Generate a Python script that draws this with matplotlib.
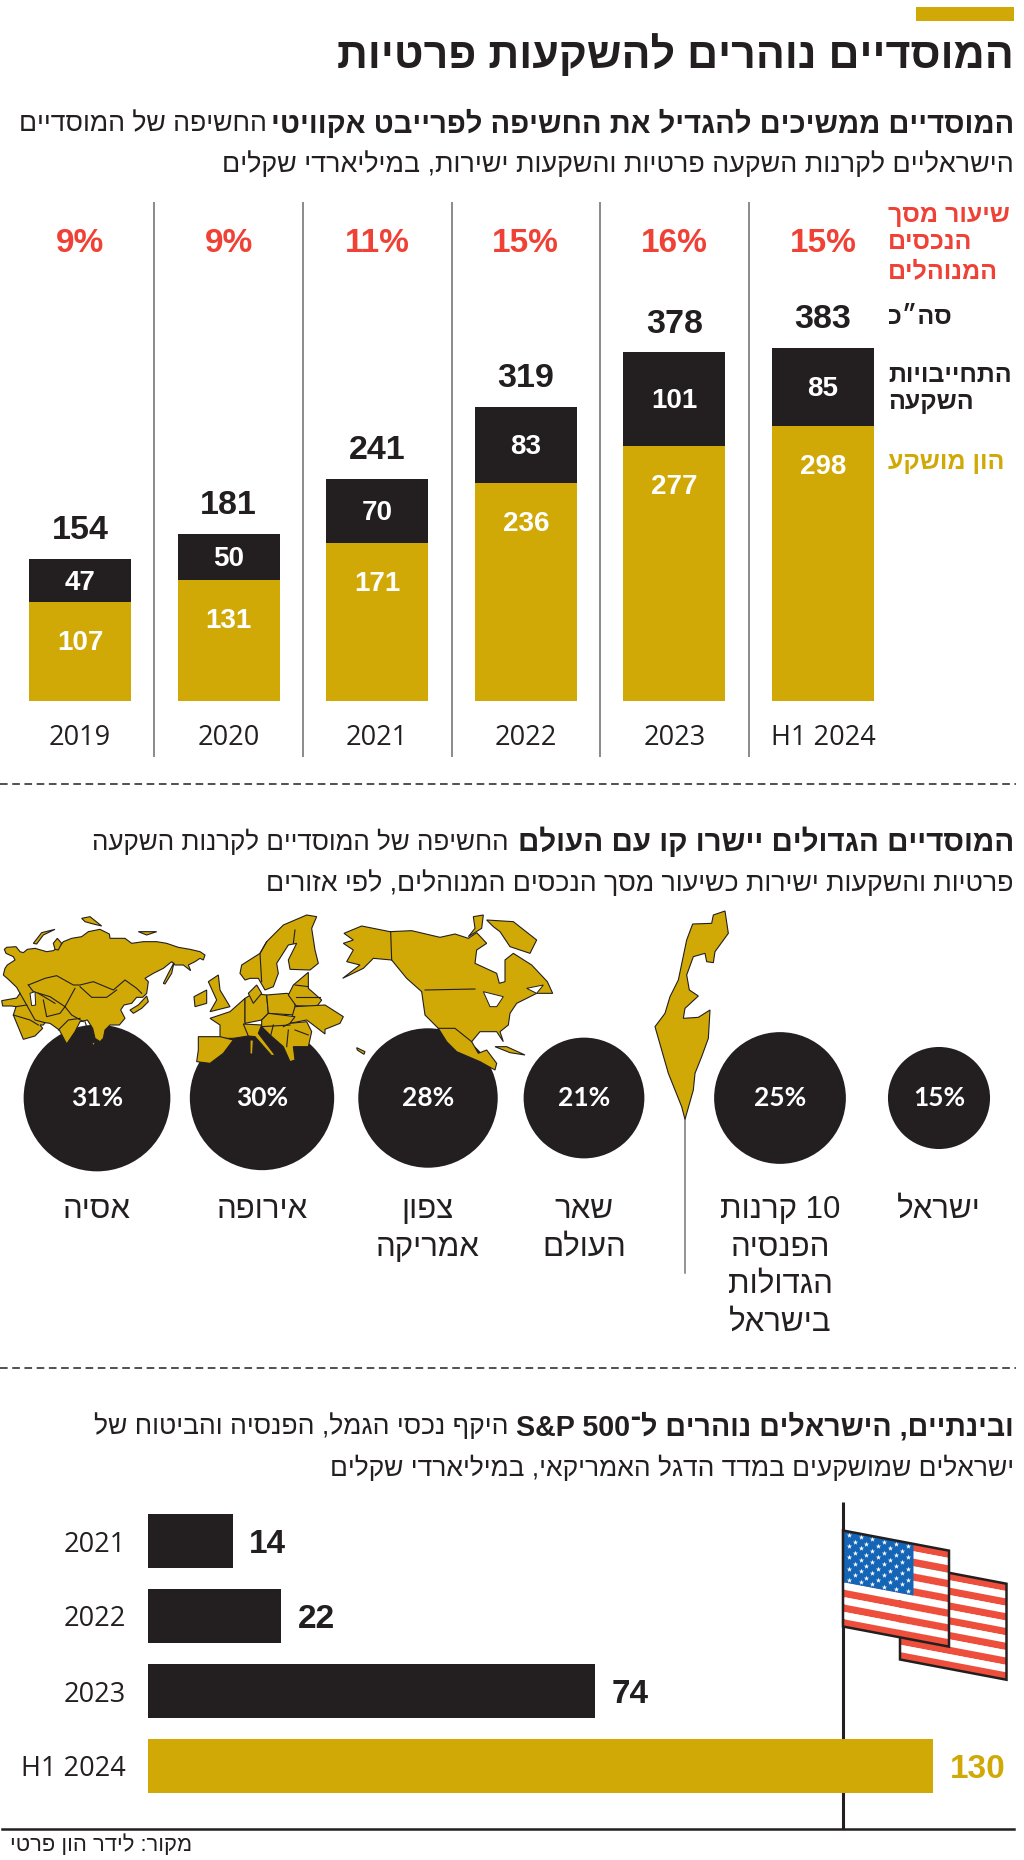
import re
import numpy as np
import matplotlib
matplotlib.use("Agg")
import matplotlib.pyplot as plt
from matplotlib.patches import Polygon

GOLD = "#d1a906"
BLACK = "#231f20"
RED = "#ef4136"
GREY = "#777777"
FLAG_RED = "#ee4f3c"
FLAG_BLUE = "#1565b7"

HEB = ["Liberation Sans", "DejaVu Sans"]
YEAR = ["Open Sans", "Liberation Sans"]

# top chart
years = ["2019", "2020", "2021", "2022", "2023", "H1 2024"]
equity = [107, 131, 171, 236, 277, 298]
commitments = [47, 50, 70, 83, 101, 85]
totals = [154, 181, 241, 319, 378, 383]
aum_share = ["9%", "9%", "11%", "15%", "16%", "15%"]

# circles, right to left in the picture
regions = [["ישראל"], ["10 קרנות", "הפנסיה", "הגדולות", "בישראל"], ["שאר", "העולם"],
           ["צפון", "אמריקה"], ["אירופה"], ["אסיה"]]
region_share = [15, 25, 21, 28, 30, 31]
region_x = [939, 780, 584, 428, 262, 97]

# bottom chart
sp_years = ["2021", "2022", "2023", "H1 2024"]
sp_values = [14, 22, 74, 130]

# map outlines (zoom pixels, 3 per image pixel)
ASIA = [(10, 195), (15, 175), (22, 165), (45, 150), (40, 140), (18, 130), (13, 118), (20, 112), (48, 110), (60, 125),
        (70, 128), (82, 118), (105, 115), (140, 125), (160, 122), (180, 108), (190, 95), (215, 85), (245, 80),
        (265, 65), (300, 58), (328, 72), (330, 85), (375, 85), (395, 100), (430, 95), (470, 95), (500, 100),
        (535, 112), (570, 118), (600, 125), (615, 135), (610, 150), (600, 145), (585, 155), (565, 165), (572, 182),
        (550, 165), (525, 165), (515, 155), (490, 175), (460, 190), (435, 205), (445, 215), (440, 250), (428, 262),
        (410, 262), (395, 280), (372, 285), (362, 300), (375, 325), (358, 345), (330, 345), (315, 360), (310, 385),
        (300, 395), (285, 385), (278, 355), (262, 330), (240, 335), (225, 365), (200, 402), (178, 360), (150, 340),
        (135, 338), (130, 345), (120, 345), (128, 355), (105, 378), (70, 388), (40, 315), (48, 290), (35, 288),
        (8, 288), (5, 272), (50, 264), (60, 250), (50, 232), (25, 208)]
ASIA_ISLES = [[(390, 300), (415, 285), (440, 258), (445, 275), (425, 295), (400, 310)],
              [(490, 220), (505, 190), (522, 158), (515, 190), (495, 222)],
              [(100, 100), (125, 68), (165, 58), (130, 75), (110, 102)],
              [(245, 25), (270, 20), (305, 48), (280, 42), (255, 35)],
              [(160, 100), (172, 85), (185, 100), (175, 120), (165, 118)],
              [(415, 65), (470, 65), (440, 75)],
              [(275, 400), (285, 395), (283, 408)]]
ASIA_LINES = [[(85, 225), (135, 205), (170, 197), (220, 225), (240, 225), (280, 215), (340, 240), (375, 210), (410, 235),
               (425, 250)],
              [(240, 230), (275, 262), (320, 262), (350, 240)], [(195, 290), (225, 235)],
              [(85, 225), (100, 245), (150, 260), (195, 290), (215, 315), (250, 335)],
              [(60, 250), (80, 285), (105, 330), (135, 338)], [(130, 270), (140, 320), (180, 310), (195, 290)],
              [(48, 290), (80, 285)], [(40, 315), (90, 330), (115, 345)], [(175, 360), (205, 330), (240, 325)],
              [(115, 250), (165, 280)], [(255, 335), (270, 380)]]
ASIA_HOLES = [[(90, 250), (105, 245), (107, 285), (95, 287)]]
EUROPE = [[(720, 190), (725, 165), (780, 130), (800, 95), (850, 45), (920, 15), (950, 20), (935, 55), (945, 120),
           (955, 160), (930, 180), (870, 178), (865, 150), (890, 100), (865, 105), (830, 160), (835, 190),
           (820, 230), (795, 240), (775, 205), (750, 205), (735, 210)],
          [(630, 325), (690, 305), (735, 265), (735, 335), (745, 378), (700, 385), (660, 385), (660, 345)],
          [(735, 265), (760, 250), (800, 255), (805, 310), (785, 330), (735, 340)],
          [(800, 255), (860, 250), (885, 255), (885, 315), (805, 310)],
          [(865, 255), (880, 225), (925, 187), (925, 235), (965, 270), (950, 290), (888, 287)],
          [(885, 290), (975, 285), (1030, 320), (1020, 340), (975, 358), (975, 372), (940, 345), (920, 330), (870, 340)],
          [(785, 330), (805, 310), (885, 320), (870, 340), (920, 335), (935, 365), (925, 410), (880, 410), (885, 450),
           (870, 455), (850, 410), (810, 375), (785, 350)],
          [(730, 342), (785, 345), (775, 370), (825, 435), (815, 437), (765, 380), (745, 378)],
          [(595, 380), (660, 380), (700, 390), (670, 430), (630, 460), (590, 455), (595, 420)],
          [(625, 215), (655, 195), (660, 240), (690, 290), (630, 305), (650, 270)],
          [(582, 260), (620, 240), (620, 280), (585, 290)],
          [(745, 250), (770, 225), (785, 250), (760, 280)],
          [(750, 390), (760, 390), (758, 432), (750, 432)]]
EUROPE_LINES = [[(885, 60), (880, 100)], [(800, 95), (780, 130), (785, 215)], [(820, 345), (810, 385)],
                [(865, 360), (860, 410)], [(885, 360), (925, 375)], [(850, 350), (870, 340)],
                [(885, 225), (925, 230)], [(888, 262), (960, 262)], [(785, 350), (870, 345)]]
NORTH_AMERICA = [(12, 70), (65, 48), (150, 65), (215, 62), (300, 82), (345, 72), (385, 85), (410, 68), (440, 100),
                 (410, 120), (405, 160), (470, 190), (478, 220), (495, 215), (495, 150), (520, 130), (575, 165),
                 (622, 215), (638, 250), (590, 250), (560, 265), (530, 280), (510, 310), (505, 345), (480, 365),
                 (490, 395), (470, 365), (420, 365), (395, 395), (415, 430), (440, 420), (470, 460), (465, 480),
                 (420, 455), (350, 425), (320, 395), (295, 355), (255, 315), (245, 245), (200, 205), (155, 150),
                 (100, 145), (70, 175), (8, 205), (60, 165), (20, 155), (40, 120), (10, 100), (40, 90)]
NA_ISLES = [[(400, 20), (430, 15), (425, 55), (385, 80), (405, 55)],
            [(440, 30), (520, 35), (590, 90), (570, 130), (510, 110), (480, 65), (460, 50)],
            [(465, 410), (500, 410), (555, 435), (510, 428)],
            [(50, 413), (75, 425), (72, 433), (52, 420)]]
NA_LINES = [[(152, 65), (155, 150)], [(255, 240), (405, 237)], [(295, 355), (345, 355), (395, 395)]]
NA_HOLES = [[(430, 245), (490, 260), (470, 290), (450, 290)], [(560, 235), (610, 225), (590, 250)]]
ISRAEL = [(1120, 15), (1155, 3), (1165, 70), (1125, 125), (1120, 158), (1100, 155), (1095, 130), (1060, 140),
          (1040, 195), (1048, 240), (1075, 258), (1035, 295), (1030, 325), (1075, 322), (1110, 300), (1105, 385),
          (1085, 440), (1065, 490), (1060, 540), (1035, 628), (1025, 590), (985, 490), (945, 350), (975, 310),
          (990, 260), (1015, 210), (1040, 90), (1058, 42), (1115, 40)]


def rtl(s):
    # matplotlib has no bidi, so hand it the visual order and keep latin/digit runs as they are
    return re.sub(r"[A-Za-z0-9&]+(?: [A-Za-z0-9&]+)*", lambda m: m.group()[::-1], s[::-1])


def px_axes(fig, left, top, right, bottom):
    W, H = fig.get_size_inches() * fig.dpi
    ax = fig.add_axes([left / W, 1 - bottom / H, (right - left) / W, (bottom - top) / H])
    ax.patch.set_visible(False)
    return ax


def label(ax, x, y, s, size, ha="right", weight="normal", color=BLACK, family=HEB):
    ax.text(x, y, rtl(s), fontsize=size, ha=ha, va="center", fontweight=weight, color=color, family=family)


def draw_map(ax, x0, y0, shapes, lines=(), holes=()):
    to_px = lambda pts: [(x0 + x / 3, y0 + y / 3) for x, y in pts]
    for pts in shapes:
        ax.add_patch(Polygon(to_px(pts), fc=GOLD, ec=BLACK, lw=0.8, zorder=4))
    for pts in lines:
        xs, ys = zip(*to_px(pts))
        ax.plot(xs, ys, color=BLACK, lw=0.8, zorder=5)
    for pts in holes:
        ax.add_patch(Polygon(to_px(pts), fc="white", ec=BLACK, lw=0.7, zorder=5))


def draw_flag(ax, x0, top, width, height, slope, z, canton=False):
    # stripes sheared along the flag's slope
    n = 13
    for i in range(n):
        y1 = top + height * i / n
        y2 = top + height * (i + 1) / n
        ax.add_patch(Polygon([(x0, y1), (x0 + width, y1 + width * slope), (x0 + width, y2 + width * slope), (x0, y2)],
                             fc=FLAG_RED if i % 2 == 0 else "white", ec="none", zorder=z))
    if canton:
        cw = width * 0.665
        ch = height * 7 / 13
        ax.add_patch(Polygon([(x0, top), (x0 + cw, top + cw * slope), (x0 + cw, top + ch + cw * slope), (x0, top + ch)],
                             fc=FLAG_BLUE, ec="none", zorder=z))
        sx, sy = [], []
        for row in range(9):
            for col in range(6 if row % 2 == 0 else 5):
                x = x0 + cw * (col + (0.5 if row % 2 == 0 else 1.0)) / 6
                sx.append(x)
                sy.append(top + (x - x0) * slope + ch * (row + 0.6) / 9.2)
        ax.scatter(sx, sy, marker="*", s=16, color="white", linewidths=0, zorder=z + 0.5)
    ax.add_patch(Polygon([(x0, top), (x0 + width, top + width * slope), (x0 + width, top + height + width * slope),
                          (x0, top + height)], fc="none", ec=BLACK, lw=1.8, zorder=z + 0.5, joinstyle="miter"))


fig = plt.figure(figsize=(10.24, 18.6), dpi=100)
page = px_axes(fig, 0, 0, 1024, 1860)
page.set_xlim(0, 1024)
page.set_ylim(1860, 0)
page.axis("off")

# header
page.fill_between([916, 1014], 7, 21, color=GOLD, lw=0)
label(page, 1014, 56, "המוסדיים נוהרים להשקעות פרטיות", 31, weight="bold")
label(page, 1014, 124, "המוסדיים ממשיכים להגדיל את החשיפה לפרייבט אקוויטי", 21, weight="bold")
label(page, 267, 124, "החשיפה של המוסדיים", 19.2)
label(page, 1014, 165, "הישראליים לקרנות השקעה פרטיות והשקעות ישירות, במיליארדי שקלים", 19.4)

# stacked bars
ax = px_axes(fig, 0, 202, 1024, 757)
PX_PER_UNIT = 0.922
ax.set_xlim(-80 / 148.6, (1024 - 80) / 148.6)
ax.set_ylim(-(757 - 701) / PX_PER_UNIT, (701 - 202) / PX_PER_UNIT)
pos = np.arange(len(years))
ax.bar(pos, equity, width=0.686, color=GOLD)
ax.bar(pos, commitments, width=0.686, bottom=equity, color=BLACK)
for i in range(len(years)):
    ax.annotate(str(equity[i]), (i, equity[i]), xytext=(0, -29.5), textcoords="offset points", ha="center", va="center",
                fontsize=20, fontweight="bold", color="white", family=HEB)
    ax.annotate(str(commitments[i]), (i, equity[i] + commitments[i] / 2), xytext=(0, -1.5), textcoords="offset points",
                ha="center", va="center", fontsize=20, fontweight="bold", color="white", family=HEB)
    ax.annotate(str(totals[i]), (i, totals[i]), xytext=(0, 20.5), textcoords="offset points", ha="center", va="center",
                fontsize=24.5, fontweight="bold", color=BLACK, family=HEB)
    ax.text(i, 0.925, aum_share[i], transform=ax.get_xaxis_transform(), ha="center", va="center",
            fontsize=24, fontweight="bold", color=RED, family=HEB)
for i in range(len(years) - 1):
    ax.axvline(i + 0.5, color=GREY, lw=1.2)
ax.set_xticks(pos, years, fontsize=19.5, family=YEAR, color=BLACK)
ax.set_yticks([])
ax.tick_params(axis="x", length=0, pad=-24)
for s in ax.spines.values():
    s.set_visible(False)

# legend column of the top chart
for y, s in zip([215, 242, 271], ["שיעור מסך", "הנכסים", "המנוהלים"]):
    label(page, 888, y, s, 18, ha="left", weight="bold", color=RED)
label(page, 888, 317, 'סה״כ', 18, ha="left", weight="bold")
for y, s in zip([375, 402], ["התחייבויות", "השקעה"]):
    label(page, 888, y, s, 18, ha="left", weight="bold")
label(page, 888, 462, "הון מושקע", 18, ha="left", weight="bold", color=GOLD)

page.plot([0, 1016], [784, 784], color=BLACK, lw=1.1, ls=(0, (5, 3)))

# section 2
label(page, 1014, 842, "המוסדיים הגדולים יישרו קו עם העולם", 21.3, weight="bold")
label(page, 508, 842, "החשיפה של המוסדיים לקרנות השקעה", 18.7)
label(page, 1014, 884, "פרטיות והשקעות ישירות כשיעור מסך הנכסים המנוהלים, לפי אזורים", 19.3)

# circle area follows the share
page.scatter(region_x, [1098] * len(region_x), s=[360 * v for v in region_share], color=BLACK, linewidths=0, zorder=3)
for x, v, lines in zip(region_x, region_share, regions):
    page.text(x, 1098, f"{v}%", ha="center", va="center", fontsize=19, fontweight="bold", color="white",
              family=["Lato", "Liberation Sans"], zorder=6)
    for k, s in enumerate(lines):
        label(page, x, 1210 + 37.5 * k, s, 22.5, ha="center")

draw_map(page, 0, 910, [ASIA] + ASIA_ISLES, ASIA_LINES, ASIA_HOLES)
draw_map(page, 0, 910, EUROPE, EUROPE_LINES)
draw_map(page, 340, 910, [NORTH_AMERICA] + NA_ISLES, NA_LINES, NA_HOLES)
draw_map(page, 340, 910, [ISRAEL])
page.plot([685, 685], [1119, 1273], color=GREY, lw=1.1)

page.plot([0, 1016], [1368, 1368], color=BLACK, lw=1.1, ls=(0, (5, 3)))

# section 3
label(page, 1014, 1427, "ובינתיים, הישראלים נוהרים ל־S&P 500", 20.6, weight="bold")
label(page, 508, 1427, "היקף נכסי הגמל, הפנסיה והביטוח של", 19.1)
label(page, 1014, 1468, "ישראלים שמושקעים במדד הדגל האמריקאי, במיליארדי שקלים", 19)

# horizontal bars
bx = px_axes(fig, 148, 1505, 1024, 1810)
PX_PER_BN = 6.04
bx.set_xlim(0, 876 / PX_PER_BN)
bx.set_ylim((1810 - 1541) / 75, (1505 - 1541) / 75)
ypos = np.arange(len(sp_years))
colors = [GOLD if y.startswith("H1") else BLACK for y in sp_years]
bx.barh(ypos, sp_values, height=0.728, color=colors)
for i, v in enumerate(sp_values):
    bx.annotate(str(v), (v, i), xytext=(12, -2.5), textcoords="offset points", ha="left", va="center", fontsize=24,
                fontweight="bold", color=colors[i], family=HEB)
bx.set_yticks(ypos, sp_years, fontsize=19.5, family=YEAR, color=BLACK)
bx.set_xticks([])
bx.tick_params(axis="y", length=0, pad=16)
for s in bx.spines.values():
    s.set_visible(False)

# flag and pole
page.plot([843, 843], [1502, 1829], color=BLACK, lw=2.2, zorder=5, solid_capstyle="butt")
draw_flag(page, 900, 1563.5, 106.5, 96, 0.19, 6)
draw_flag(page, 843, 1530.5, 106, 96, 0.19, 8, canton=True)

page.plot([2, 1014], [1829, 1829], color=BLACK, lw=1.8)
label(page, 192, 1845, "מקור: לידר הון פרטי", 15.8)

fig.savefig("out.png", dpi=100)
